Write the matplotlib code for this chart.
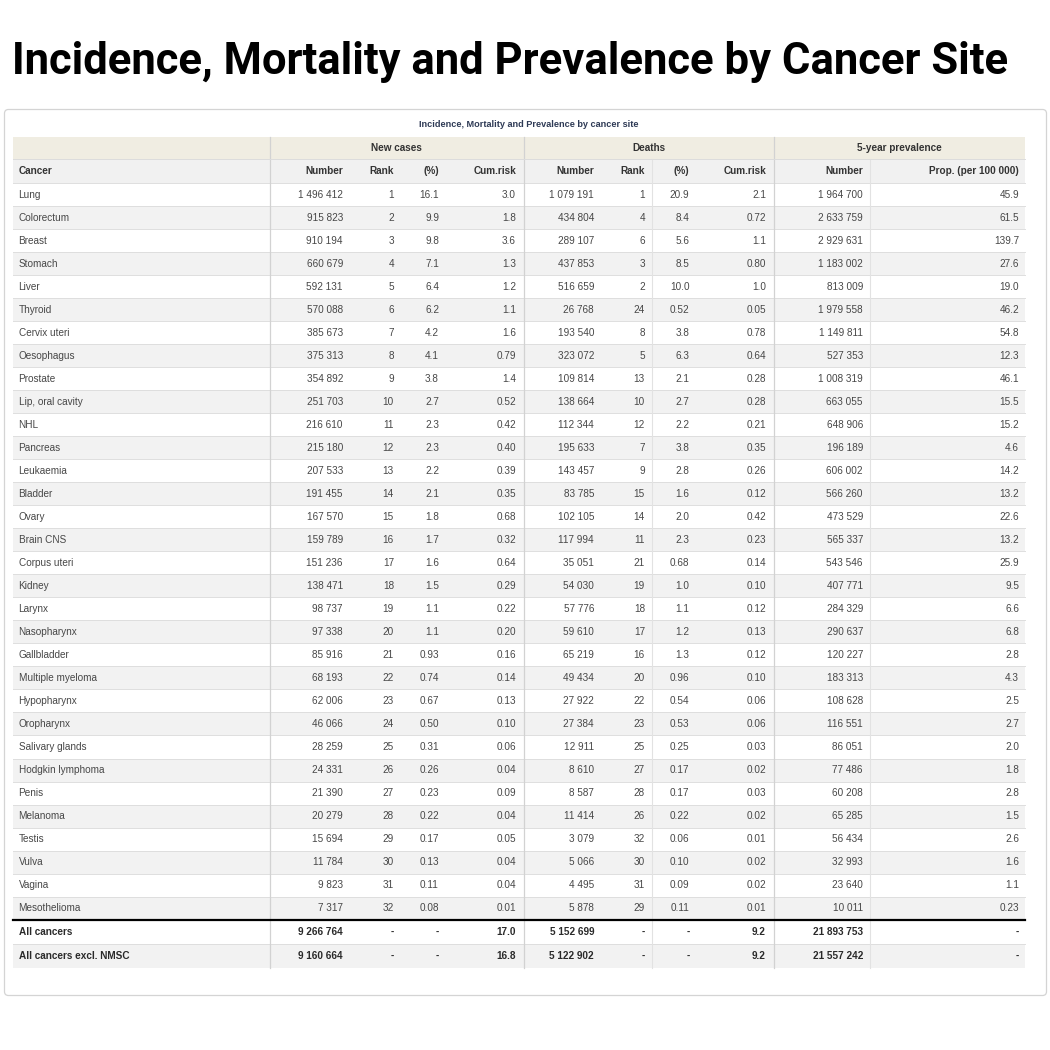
import matplotlib
matplotlib.use("Agg")
import matplotlib.pyplot as plt
from matplotlib.patches import Rectangle, FancyBboxPatch

# ---------------- data ----------------
title = "Incidence, Mortality and Prevalence by Cancer Site"
subtitle = "Incidence, Mortality and Prevalence by cancer site"
groups = ["New cases", "Deaths", "5-year prevalence"]
col_headers = ["Cancer", "Number", "Rank", "(%)", "Cum.risk",
               "Number", "Rank", "(%)", "Cum.risk", "Number", "Prop. (per 100 000)"]

cancers = ["Lung", "Colorectum", "Breast", "Stomach", "Liver", "Thyroid", "Cervix uteri",
           "Oesophagus", "Prostate", "Lip, oral cavity", "NHL", "Pancreas", "Leukaemia",
           "Bladder", "Ovary", "Brain CNS", "Corpus uteri", "Kidney", "Larynx", "Nasopharynx",
           "Gallbladder", "Multiple myeloma", "Hypopharynx", "Oropharynx", "Salivary glands",
           "Hodgkin lymphoma", "Penis", "Melanoma", "Testis", "Vulva", "Vagina", "Mesothelioma"]

new_number = [1496412, 915823, 910194, 660679, 592131, 570088, 385673, 375313, 354892, 251703,
              216610, 215180, 207533, 191455, 167570, 159789, 151236, 138471, 98737, 97338,
              85916, 68193, 62006, 46066, 28259, 24331, 21390, 20279, 15694, 11784, 9823, 7317]
new_rank = [1, 2, 3, 4, 5, 6, 7, 8, 9, 10, 11, 12, 13, 14, 15, 16, 17, 18, 19, 20, 21, 22,
            23, 24, 25, 26, 27, 28, 29, 30, 31, 32]
new_pct = [16.1, 9.9, 9.8, 7.1, 6.4, 6.2, 4.2, 4.1, 3.8, 2.7, 2.3, 2.3, 2.2, 2.1, 1.8, 1.7,
           1.6, 1.5, 1.1, 1.1, 0.93, 0.74, 0.67, 0.50, 0.31, 0.26, 0.23, 0.22, 0.17, 0.13,
           0.11, 0.08]
new_cum = [3.0, 1.8, 3.6, 1.3, 1.2, 1.1, 1.6, 0.79, 1.4, 0.52, 0.42, 0.40, 0.39, 0.35, 0.68,
           0.32, 0.64, 0.29, 0.22, 0.20, 0.16, 0.14, 0.13, 0.10, 0.06, 0.04, 0.09, 0.04, 0.05,
           0.04, 0.04, 0.01]

death_number = [1079191, 434804, 289107, 437853, 516659, 26768, 193540, 323072, 109814,
                138664, 112344, 195633, 143457, 83785, 102105, 117994, 35051, 54030, 57776,
                59610, 65219, 49434, 27922, 27384, 12911, 8610, 8587, 11414, 3079, 5066,
                4495, 5878]
death_rank = [1, 4, 6, 3, 2, 24, 8, 5, 13, 10, 12, 7, 9, 15, 14, 11, 21, 19, 18, 17, 16, 20,
              22, 23, 25, 27, 28, 26, 32, 30, 31, 29]
death_pct = [20.9, 8.4, 5.6, 8.5, 10.0, 0.52, 3.8, 6.3, 2.1, 2.7, 2.2, 3.8, 2.8, 1.6, 2.0,
             2.3, 0.68, 1.0, 1.1, 1.2, 1.3, 0.96, 0.54, 0.53, 0.25, 0.17, 0.17, 0.22, 0.06,
             0.10, 0.09, 0.11]
death_cum = [2.1, 0.72, 1.1, 0.80, 1.0, 0.05, 0.78, 0.64, 0.28, 0.28, 0.21, 0.35, 0.26, 0.12,
             0.42, 0.23, 0.14, 0.10, 0.12, 0.13, 0.12, 0.10, 0.06, 0.06, 0.03, 0.02, 0.03,
             0.02, 0.01, 0.02, 0.02, 0.01]

prev_number = [1964700, 2633759, 2929631, 1183002, 813009, 1979558, 1149811, 527353, 1008319,
               663055, 648906, 196189, 606002, 566260, 473529, 565337, 543546, 407771, 284329,
               290637, 120227, 183313, 108628, 116551, 86051, 77486, 60208, 65285, 56434,
               32993, 23640, 10011]
prev_prop = [45.9, 61.5, 139.7, 27.6, 19.0, 46.2, 54.8, 12.3, 46.1, 15.5, 15.2, 4.6, 14.2,
             13.2, 22.6, 13.2, 25.9, 9.5, 6.6, 6.8, 2.8, 4.3, 2.5, 2.7, 2.0, 1.8, 2.8, 1.5,
             2.6, 1.6, 1.1, 0.23]

total_labels = ["All cancers", "All cancers excl. NMSC"]
total_new_number = [9266764, 9160664]
total_new_cum = [17.0, 16.8]
total_death_number = [5152699, 5122902]
total_death_cum = [9.2, 9.2]
total_prev_number = [21893753, 21557242]


def fnum(n):
    return f"{n:,}".replace(",", " ")


def fdec(v):
    return f"{v:.1f}" if v >= 1 else f"{v:.2f}"


# ---------------- layout ----------------
W = H = 1050
fig = plt.figure(figsize=(10.5, 10.5), dpi=100)
fig.patch.set_facecolor("white")
ax = fig.add_axes([0, 0, 1, 1])
ax.set_xlim(0, W)
ax.set_ylim(H, 0)
ax.axis("off")

FONT = "Liberation Sans"
FS = 7.2
body_col = "#474747"
head_col = "#333333"

# title (fit to width)
t = ax.text(12, 74, title, fontsize=30, fontweight="bold", family="Roboto",
            color="black", ha="left", va="baseline")
fig.canvas.draw()
bb = t.get_window_extent()
t.set_fontsize(30 * 995 / bb.width)

# outer box
box = FancyBboxPatch((4.5, 109.5), 1042, 886, boxstyle="round,pad=0,rounding_size=4",
                     facecolor="white", edgecolor="#d4d4d4", lw=0.9)
ax.add_patch(box)

ax.text(529, 124.5, subtitle, fontsize=6.6, fontweight="bold", family=FONT,
        color="#2e3a55", ha="center", va="center")

tl, tr = 12.5, 1025
h1_top, h1_bot, h2_bot = 136.6, 159.3, 183.0
rh = 23.02
n = len(cancers)
body_bot = h2_bot + n * rh
tot_rh = 24.0

# header bands
ax.add_patch(Rectangle((tl, h1_top), tr - tl, h1_bot - h1_top, facecolor="#f0ede2",
                       edgecolor="none"))
ax.add_patch(Rectangle((tl, h1_bot), tr - tl, h2_bot - h1_bot, facecolor="#f1f1f1",
                       edgecolor="none"))

# stripes
for i in range(n):
    y0 = h2_bot + i * rh
    fc = "white" if i % 2 == 0 else "#f2f2f2"
    ax.add_patch(Rectangle((tl, y0), tr - tl, rh, facecolor=fc, edgecolor="none"))
    ax.plot([tl, tr], [y0, y0], color="#dedede", lw=0.7)
for j in range(2):
    y0 = body_bot + j * tot_rh
    fc = "white" if j % 2 == 0 else "#f2f2f2"
    ax.add_patch(Rectangle((tl, y0), tr - tl, tot_rh, facecolor=fc, edgecolor="none"))
    if j > 0:
        ax.plot([tl, tr], [y0, y0], color="#dedede", lw=0.7)
tab_bot = body_bot + 2 * tot_rh

# vertical lines
for x in [269.5, 523.5, 773.5]:
    ax.plot([x, x], [h1_top, tab_bot], color="#d2d2d2", lw=0.9)
for x in [652.0, 870.0]:
    ax.plot([x, x], [h1_bot, tab_bot], color="#e2e2e2", lw=0.8)
ax.plot([tl, tr], [h1_bot, h1_bot], color="#dcdcdc", lw=0.7)

# thick rule
ax.plot([tl, tr], [body_bot, body_bot], color="black", lw=1.6)

# group headers
for g, (a, b) in zip(groups, [(269.5, 523.5), (523.5, 773.5), (773.5, tr)]):
    ax.text((a + b) / 2, (h1_top + h1_bot) / 2, g, fontsize=FS, fontweight="bold",
            family=FONT, color=head_col, ha="center", va="center")

col_x = [18.6, 343, 394, 439, 516, 594, 645, 689.5, 766, 863, 1019]
hy = (h1_bot + h2_bot) / 2
for k, (lab, x) in enumerate(zip(col_headers, col_x)):
    ax.text(x, hy, lab, fontsize=FS, fontweight="bold", family=FONT, color=head_col,
            ha="left" if k == 0 else "right", va="center")

# body
for i in range(n):
    y = h2_bot + (i + 0.5) * rh
    vals = [cancers[i], fnum(new_number[i]), str(new_rank[i]), fdec(new_pct[i]),
            fdec(new_cum[i]), fnum(death_number[i]), str(death_rank[i]),
            fdec(death_pct[i]), fdec(death_cum[i]), fnum(prev_number[i]),
            fdec(prev_prop[i])]
    for k, (v, x) in enumerate(zip(vals, col_x)):
        ax.text(x, y, v, fontsize=FS, family=FONT, color=body_col,
                ha="left" if k == 0 else "right", va="center")

# totals
for j in range(2):
    y = body_bot + (j + 0.5) * tot_rh
    vals = [total_labels[j], fnum(total_new_number[j]), "-", "-", fdec(total_new_cum[j]),
            fnum(total_death_number[j]), "-", "-", fdec(total_death_cum[j]),
            fnum(total_prev_number[j]), "-"]
    for k, (v, x) in enumerate(zip(vals, col_x)):
        ax.text(x, y, v, fontsize=FS, fontweight="bold", family=FONT, color="#2a2a2a",
                ha="left" if k == 0 else "right", va="center")

fig.savefig("out.png", dpi=100, facecolor="white")
